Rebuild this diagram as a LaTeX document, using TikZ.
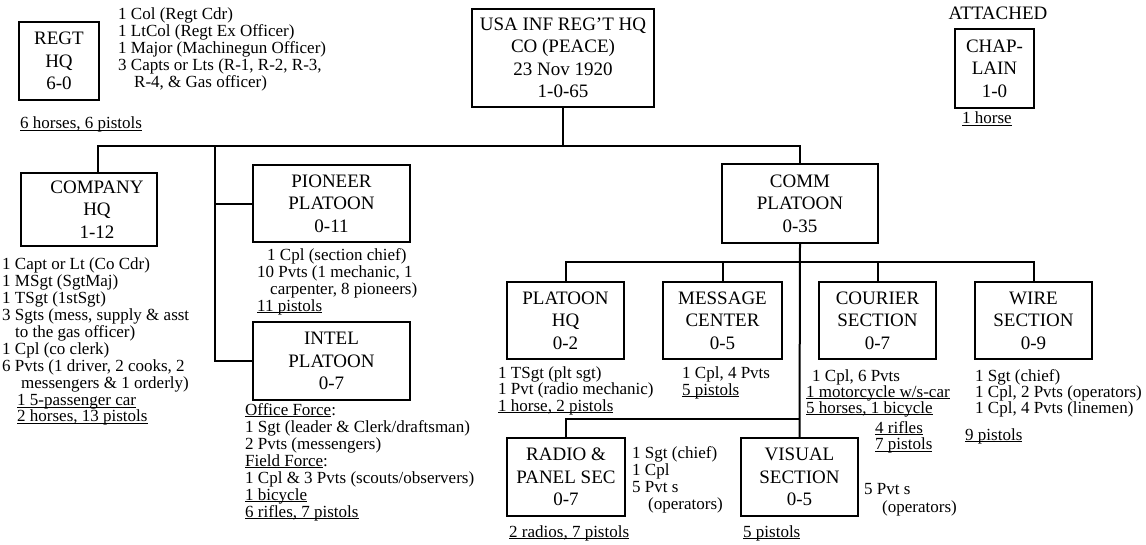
\documentclass[tikz,border=0pt]{standalone}
\usepackage{fontspec}
\setmainfont{Liberation Serif}
\newcommand{\ulin}[1]{\setbox0\hbox{#1}\rlap{\rule[-2.2pt]{\wd0}{1.1pt}}\box0}
\begin{document}
\begin{tikzpicture}[x=1pt,y=-1pt]
\tikzset{
 box/.style={draw, line width=2pt, align=center, inner sep=0pt, font=\fontsize{19}{22.5}\selectfont},
 info/.style={align=left, inner sep=0pt, anchor=north west, font=\fontsize{17}{17}\selectfont},
 conn/.style={line width=2pt},
}
\useasboundingbox (0,0) rectangle (1146,544);
% boxes
\node[box, minimum width=80pt, minimum height=78pt] (regt) at (59,61) {REGT\\HQ\\6-0};
\node[box, minimum width=182pt, minimum height=98pt] (usa) at (563,58) {USA INF REG'T HQ\\CO (PEACE)\\23 Nov 1920\\1-0-65};
\node[box, minimum width=79pt, minimum height=79pt] (chap) at (994.5,68.5) {CHAP-\\LAIN\\1-0};
\node[box, minimum width=136pt, minimum height=73pt] (company) at (89,209.5) {\hspace*{16pt}COMPANY\\\hspace*{16pt}HQ\\\hspace*{16pt}1-12};
\node[box, minimum width=157pt, minimum height=77pt] (pioneer) at (331.5,203.5) {PIONEER\\PLATOON\\0-11};
\node[box, minimum width=157pt, minimum height=78pt] (intel) at (331.5,361) {INTEL\\PLATOON\\0-7};
\node[box, minimum width=156pt, minimum height=79pt] (comm) at (800,203.5) {COMM\\PLATOON\\0-35};
\node[box, minimum width=117pt, minimum height=77pt] (plthq) at (565.5,320.5) {PLATOON\\HQ\\0-2};
\node[box, minimum width=119pt, minimum height=77pt] (msg) at (722.5,320.5) {MESSAGE\\CENTER\\0-5};
\node[box, minimum width=117pt, minimum height=77pt] (courier) at (877.5,320.5) {COURIER\\SECTION\\0-7};
\node[box, minimum width=117pt, minimum height=77pt] (wiresec) at (1033.5,320.5) {WIRE\\SECTION\\0-9};
\node[box, minimum width=118pt, minimum height=78pt] (radio) at (566,477) {RADIO \&\\PANEL SEC\\0-7};
\node[box, minimum width=117pt, minimum height=78pt] (visual) at (799.5,477) {VISUAL\\SECTION\\0-5};
% texts
\node[info] (regtinfo) at (118,8) {1 Col (Regt Cdr)\\1 LtCol (Regt Ex Officer)\\1 Major (Machinegun Officer)\\3 Capts or Lts (R-1, R-2, R-3,\\\hspace*{16pt}R-4, \& Gas officer)};
\node[info] (regteq) at (20,117) {\ulin{6 horses, 6 pistols}};
\node[info, anchor=north, font=\fontsize{19}{19}\selectfont] (attached) at (998,7) {ATTACHED};
\node[info] (chapeq) at (962,112) {\ulin{1 horse}};
\node[info] (coinfo) at (2,257) {1 Capt or Lt (Co Cdr)\\1 MSgt (SgtMaj)\\1 TSgt (1stSgt)\\3 Sgts (mess, supply \& asst\\\hspace*{13pt}to the gas officer)\\1 Cpl (co clerk)\\6 Pvts (1 driver, 2 cooks, 2\\\hspace*{19pt}messengers \& 1 orderly)};
\node[info, font=\fontsize{17}{16}\selectfont] (coeq) at (17,394) {\ulin{1 5-passenger car}\\\ulin{2 horses, 13 pistols}};
\node[info] (pioinfo) at (257,248) {\hspace*{10pt}1 Cpl (section chief)\\10 Pvts (1 mechanic, 1\\\hspace*{13pt}carpenter, 8 pioneers)\\\ulin{11 pistols}};
\node[info] (intinfo) at (245,403) {\ulin{Office Force}:\\1 Sgt (leader \& Clerk/draftsman)\\2 Pvts (messengers)\\\ulin{Field Force}:\\1 Cpl \& 3 Pvts (scouts/observers)\\\ulin{1 bicycle}\\\ulin{6 rifles, 7 pistols}};
\node[info, font=\fontsize{17}{16.5}\selectfont] (plthqinfo) at (498,366) {1 TSgt (plt sgt)\\1 Pvt (radio mechanic)\\\ulin{1 horse, 2 pistols}};
\node[info, font=\fontsize{17}{17}\selectfont] (msginfo) at (682,366) {1 Cpl, 4 Pvts\\\ulin{5 pistols}};
\node[info, font=\fontsize{17}{16}\selectfont] (courinfo) at (806,369) {\hspace*{6pt}1 Cpl, 6 Pvts\\\ulin{1 motorcycle w/s-car}\\\ulin{5 horses, 1 bicycle}};
\node[info, font=\fontsize{17}{16.5}\selectfont] (coureq) at (875,421) {\ulin{4 rifles}\\\ulin{7 pistols}};
\node[info, font=\fontsize{17}{16}\selectfont] (wireinfo) at (975,369) {1 Sgt (chief)\\1 Cpl, 2 Pvts (operators)\\1 Cpl, 4 Pvts (linemen)};
\node[info] (wireeq) at (965,428) {\ulin{9 pistols}};
\node[info, font=\fontsize{17}{17}\selectfont] (radioinfo) at (632,446) {1 Sgt (chief)\\1 Cpl\\5 Pvt s\\\hspace*{16pt}(operators)};
\node[info] (radioeq) at (509,525) {\ulin{2 radios, 7 pistols}};
\node[info, font=\fontsize{17}{18}\selectfont] (visinfo) at (864,483) {5 Pvt s\\\hspace*{18pt}(operators)};
\node[info] (viseq) at (743,525) {\ulin{5 pistols}};
% connectors
\coordinate (busL) at (98,146);
\coordinate (busR) at (800,146);
\coordinate (vl) at (215,146);
\coordinate (b2) at (800,262);
\coordinate (b3) at (800,419);
\draw[conn] (usa.south) -- (usa.south |- busL);
\draw[conn] (company.north -| busL) -- (busL) -- (busR) -- (comm.north);
\draw[conn] (vl) |- (pioneer.west);
\draw[conn] (vl) |- (intel.west);
\draw[conn] (comm.south) -- (visual.north);
\draw[conn] (plthq.north) |- (b2) -| (wiresec.north);
\draw[conn] (msg.north) -- (msg.north |- b2);
\draw[conn] (courier.north) -- (courier.north |- b2);
\draw[conn] (radio.north) |- (b3);
\end{tikzpicture}
\end{document}
